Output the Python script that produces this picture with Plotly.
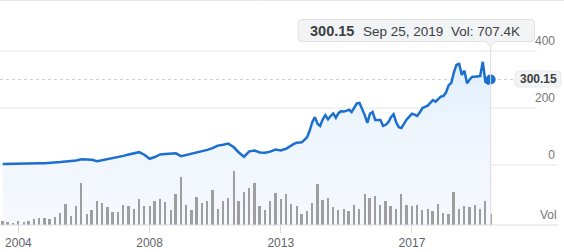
import plotly.graph_objects as go

# ---------------- data ----------------
periods = list(range(94))
# price observations: one per period up to 54, then two per period
price_t = list(range(55)) + [55 + 0.5 * k for k in range(77)]
price = [3.5, 3.5, 3.5, 3.6, 4, 4.5, 5, 6, 6.5, 7,
         8, 10.5, 12.5, 14, 16, 20, 19.5, 18.5, 13, 16.5,
         21, 25, 28, 32, 37, 40.5, 45, 36, 22, 28,
         37, 38.5, 38.5, 41, 31, 35, 40, 43, 47, 53,
         59, 68, 71, 75, 63, 44, 29, 48, 51, 44,
         43, 47, 54, 51, 57,
         70, 74, 78, 79, 79.5, 88, 97, 120, 150, 168,
         145, 137, 160, 175, 160, 172, 181, 166, 182, 189,
         188, 190, 194, 186, 200, 216, 218, 198, 175, 148,
         180, 186, 158, 158, 158, 137, 141, 150, 168, 178,
         150, 133, 130, 145, 160, 170, 180, 177, 172, 185,
         200, 204, 208, 218, 228, 222, 232, 240, 242, 255,
         280, 288, 325, 352, 355, 316, 331, 287, 300, 310,
         310, 310, 312, 362, 292, 286, 300.15]
volume_k = [232, 169, 144, 269, 188, 250, 357, 438, 457, 394,
            501, 751, 1333, 563, 1208, 2610, 670, 958, 1502, 1377,
            1108, 833, 833, 1271, 1208, 1002, 1646, 1208, 1208, 1502,
            1628, 1459, 920, 1959, 3005, 1271, 920, 1753, 1396, 1521,
            2191, 1002, 1502, 1709, 3399, 1521, 2047, 2335, 2648, 1189,
            958, 1521, 2003, 1628, 1941, 1315, 1171, 707, 858, 1396,
            2585, 1584, 1709, 1146, 958, 1002, 858, 1271, 983, 1941,
            1671, 1834, 1271, 1521, 1171, 1020, 1959, 1252, 1171, 1271,
            920, 1002, 895, 1315, 751, 707, 2085, 1020, 1208, 1108,
            1233, 1020, 1484, 707.4]
tick_periods = [3, 28, 53, 78]
tick_labels = ["2004", "2008", "2013", "2017"]
price_ticks = [0, 200, 400]
last_date = "Sep 25, 2019"
last_vol_label = "707.4K"

# ---------------- layout geometry ----------------
W, H = 564, 252
PLOT_H = 225
X_RANGE = [-0.515, 106.98]
Y_RANGE = [-210.5, 578.95]
V_RANGE = [0, 14085]

FONT = "Liberation Sans, Arial, sans-serif"
LINE = "#1c6fcf"
GRID = "#e6e6e6"
AXIS_TXT = "#757575"


def px_x(v):
    return (v - X_RANGE[0]) / (X_RANGE[1] - X_RANGE[0]) * W


def pap(px, py):
    return px / W, (PLOT_H - py) / PLOT_H


def rounded(x0, y0, x1, y1, r, arrow_x=None, ah=5):
    def P(x, y):
        a, b = pap(x, y)
        return f"{a:.5f},{b:.5f}"
    s = f"M{P(x0 + r, y0)} L{P(x1 - r, y0)} Q{P(x1, y0)} {P(x1, y0 + r)} "
    s += f"L{P(x1, y1 - r)} Q{P(x1, y1)} {P(x1 - r, y1)} "
    if arrow_x is not None:
        s += f"L{P(arrow_x + ah, y1)} L{P(arrow_x, y1 + ah)} L{P(arrow_x - ah, y1)} "
    s += f"L{P(x0 + r, y1)} Q{P(x0, y1)} {P(x0, y1 - r)} "
    s += f"L{P(x0, y0 + r)} Q{P(x0, y0)} {P(x0 + r, y0)} Z"
    return s


fig = go.Figure()

base = [Y_RANGE[0]] * len(price_t)
fig.add_trace(go.Scatter(x=price_t, y=base, mode="lines", line=dict(width=0),
                         hoverinfo="skip", showlegend=False))
fig.add_trace(go.Scatter(
    x=price_t, y=price, mode="lines", fill="tonexty",
    line=dict(color=LINE, width=2.5),
    fillgradient=dict(type="vertical", start=Y_RANGE[0], stop=360,
                      colorscale=[[0, "#f6f9fe"], [0.6, "#eef5fd"], [1, "#dfeefb"]]),
    showlegend=False))
fig.add_trace(go.Scatter(x=[price_t[-1]], y=[price[-1]], mode="markers",
                         marker=dict(color=LINE, size=10), showlegend=False))
fig.add_trace(go.Bar(x=periods, y=volume_k, yaxis="y2", width=0.38,
                     marker=dict(color="#9e9e9e", line=dict(width=0)),
                     showlegend=False))

last_px = px_x(periods[-1])

shapes = []
shapes.append(dict(type="line", xref="paper", yref="paper", x0=0, x1=1,
                   y0=pap(0, 0.5)[1], y1=pap(0, 0.5)[1],
                   line=dict(color=GRID, width=1), layer="below"))
for v in price_ticks:
    x1 = 537 / W if v > 0 else 558 / W
    shapes.append(dict(type="line", xref="paper", yref="y", x0=0, x1=x1, y0=v, y1=v,
                       line=dict(color=GRID, width=1), layer="below"))
shapes.append(dict(type="line", xref="paper", yref="paper", x0=0, x1=558 / W, y0=0, y1=0,
                   line=dict(color="#dadce0", width=1), layer="above"))
shapes.append(dict(type="line", xref="paper", yref="y", x0=0, x1=515 / W, y0=price[-1], y1=price[-1],
                   line=dict(color="#d0d0d0", width=1, dash="3px,3px"), layer="below"))
shapes.append(dict(type="line", xref="x", yref="paper", x0=periods[-1], x1=periods[-1],
                   y0=0, y1=pap(0, 46)[1], line=dict(color="#dadce0", width=1), layer="above"))
shapes.append(dict(type="path", xref="paper", yref="paper",
                   path=rounded(298, 19.5, 534.5, 41.5, 4, arrow_x=last_px, ah=5),
                   fillcolor="#f1f3f4", line=dict(color="#e0e0e0", width=1), layer="above"))
shapes.append(dict(type="path", xref="paper", yref="paper",
                   path=rounded(515, 71, 561, 87, 4),
                   fillcolor="#f1f3f4", line=dict(color="#e8e8e8", width=1), layer="above"))

annotations = []
tfont = dict(family=FONT, size=13.5, color="#3c4043")
ty = pap(0, 31)[1]
annotations.append(dict(xref="paper", yref="paper", x=308 / W, y=ty, xanchor="left", yanchor="middle",
                        text=f"<b>{price[-1]:.2f}</b>", showarrow=False,
                        font=dict(family=FONT, size=14.5, color="#3c4043")))
annotations.append(dict(xref="paper", yref="paper", x=361 / W, y=ty, xanchor="left", yanchor="middle",
                        text=last_date, showarrow=False, font=tfont))
annotations.append(dict(xref="paper", yref="paper", x=449 / W, y=ty, xanchor="left", yanchor="middle",
                        text=f"Vol: {last_vol_label}", showarrow=False, font=tfont))
annotations.append(dict(xref="paper", yref="paper", x=538 / W, y=pap(0, 79)[1], xanchor="center",
                        yanchor="middle", text=f"<b>{price[-1]:.2f}</b>", showarrow=False,
                        font=dict(family=FONT, size=12, color="#3c4043")))
annotations.append(dict(xref="paper", yref="paper", x=559 / W, y=pap(0, 215)[1], xanchor="right",
                        yanchor="middle", text="Vol", showarrow=False,
                        font=dict(family=FONT, size=12, color=AXIS_TXT)))

fig.update_layout(
    width=W, height=H,
    margin=dict(l=0, r=0, t=0, b=H - PLOT_H),
    paper_bgcolor="white", plot_bgcolor="white",
    font=dict(family=FONT, size=12, color=AXIS_TXT),
    bargap=0,
    xaxis=dict(range=X_RANGE, tickmode="array", tickvals=tick_periods, ticktext=tick_labels,
               showgrid=False, zeroline=False, showline=False,
               ticks="outside", ticklen=7, tickcolor="#dadce0", tickwidth=1,
               tickfont=dict(size=12, color="#5f6368")),
    yaxis=dict(range=Y_RANGE, side="right", tickmode="array", tickvals=price_ticks,
               showgrid=False, zeroline=False, showline=False, ticks="",
               ticklabelposition="inside", ticklabelshift=-10, ticklabelstandoff=6,
               tickfont=dict(size=12, color=AXIS_TXT)),
    yaxis2=dict(range=V_RANGE, overlaying="y", visible=False, showgrid=False),
    shapes=shapes,
    annotations=annotations,
    hovermode=False,
)

fig.write_html("out.html")
